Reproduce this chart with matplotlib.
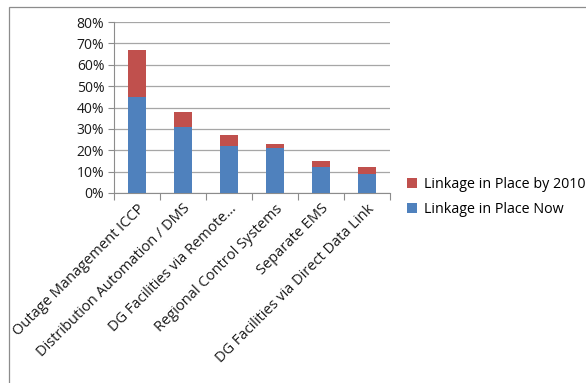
import matplotlib.pyplot as plt
import matplotlib.patches as mpatches
from matplotlib.ticker import PercentFormatter, FixedLocator, NullFormatter
import numpy as np

plt.rcParams['font.family'] = ['Open Sans', 'DejaVu Sans']

categories = ['Outage Management ICCP', 'Distribution Automation / DMS',
              'DG Facilities via Remote\u2026', 'Regional Control Systems',
              'Separate EMS', 'DG Facilities via Direct Data Link']
now = [45, 31, 22, 21, 12, 9]
by_2010 = [22, 7, 5, 2, 3, 3]

blue = '#4F81BD'
red = '#C0504D'

fig = plt.figure(figsize=(5.86, 3.83), dpi=100)
ax = fig.add_axes([114 / 586, 1 - 193 / 383, 276 / 586, 171 / 383])

# outer chart frame
fig.patches.append(mpatches.Rectangle((9 / 586, -0.1), 1.2, 1 - 7 / 383 + 0.1,
                                      transform=fig.transFigure, fill=False,
                                      edgecolor='#8c8c8c', linewidth=0.9))

x = np.arange(len(categories))
ax.bar(x, now, width=0.41, color=blue, label='Linkage in Place Now', zorder=3)
ax.bar(x, by_2010, width=0.41, bottom=now, color=red,
       label='Linkage in Place by 2010', zorder=3)

ax.set_xlim(-0.5, len(categories) - 0.5)
ax.set_ylim(0, 80)
ax.set_yticks(range(0, 81, 10))
ax.yaxis.set_major_formatter(PercentFormatter(decimals=0))
ax.grid(axis='y', color='#a6a6a6', linewidth=0.9, zorder=0)

# category boundaries carry the tick marks, labels sit at centres
ax.xaxis.set_major_locator(FixedLocator(np.arange(-0.5, len(categories), 1)))
ax.xaxis.set_major_formatter(NullFormatter())
ax.xaxis.set_minor_locator(FixedLocator(x))
ax.set_xticklabels(categories, minor=True, rotation=45, ha='right', va='top',
                   rotation_mode='anchor', fontsize=10.5, color='#1a1a1a')
ax.tick_params(axis='x', which='minor', length=0, pad=6)
ax.tick_params(axis='x', which='major', length=5, color='#8c8c8c')
ax.tick_params(axis='y', length=4, color='#8c8c8c', labelsize=10,
               labelcolor='#1a1a1a', pad=3)

for side in ['top', 'right']:
    ax.spines[side].set_visible(False)
for side in ['left', 'bottom']:
    ax.spines[side].set_color('#8c8c8c')

handles, labels = ax.get_legend_handles_labels()
ax.legend(handles[::-1], labels[::-1], loc='center left',
          bbox_to_anchor=(394 / 586, 1 - 197 / 383), bbox_transform=fig.transFigure,
          frameon=False, fontsize=10.3, handlelength=0.7, handleheight=0.7,
          handletextpad=0.5, labelspacing=0.7)

fig.savefig('out.png', dpi=100)
